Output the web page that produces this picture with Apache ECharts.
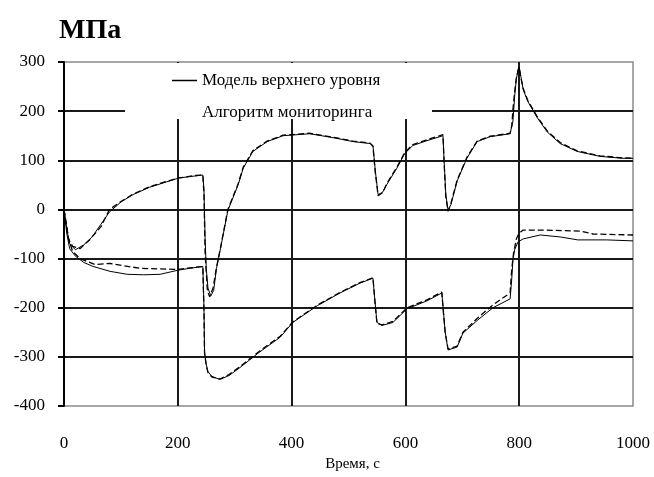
<!DOCTYPE html>
<html>
<head>
<meta charset="utf-8">
<script src="https://cdn.jsdelivr.net/npm/echarts@6/dist/echarts.min.js"></script>
<style>html,body{margin:0;padding:0;background:#fff}#c{width:654px;height:477px}</style>
</head>
<body>
<div id="c"></div>
<script>
var seriesNames = ['Модель верхнего уровня', 'Алгоритм мониторинга'];
var xTicks = [0, 200, 400, 600, 800, 1000];
var yTicks = [-400, -300, -200, -100, 0, 100, 200, 300];

var modelUpper = [[0,0],[5,-40],[10,-70],[20,-82],[35,-72],[50,-55],[65,-30],[80,-5],[100,15],[121,30],[150,45],[180,56],[202,64],[230,68],[244,70],[246,40],[248,-60],[250,-120],[253,-160],[258,-176],[263,-165],[268,-120],[275,-80],[288,-2],[306,50],[315,84],[332,118],[357,138],[385,150],[432,154],[473,146],[508,138],[538,134],[543,130],[547,80],[552,30],[555,26],[560,35],[567,50],[585,84],[599,114],[613,130],[638,140],[666,150],[668,100],[671,30],[675,-2],[680,10],[691,58],[708,104],[726,138],[749,148],[784,154],[787,156],[789,180],[792,230],[795,265],[798,285],[800,290],[803,270],[807,244],[815,220],[831,188],[849,158],[872,134],[902,118],[942,108],[982,104],[1000,104]];
var algoUpper = [[0,0],[8,-60],[15,-75],[28,-80],[45,-62],[65,-35],[80,0],[100,16],[121,31],[150,46],[180,57],[202,64],[230,69],[244,70],[246,30],[248,-90],[252,-165],[256,-178],[262,-160],[268,-118],[275,-78],[288,0],[306,52],[315,86],[332,120],[357,139],[385,151],[432,155],[473,147],[508,139],[538,135],[543,128],[547,76],[552,28],[555,24],[560,34],[567,52],[585,86],[599,116],[613,132],[638,142],[666,152],[668,96],[671,26],[675,-4],[680,12],[691,60],[708,106],[726,139],[749,149],[784,155],[787,170],[789,204],[792,240],[795,268],[798,282],[800,288],[803,268],[807,246],[815,222],[831,190],[849,160],[872,136],[902,119],[942,109],[982,105],[1000,104]];
var modelLower = [[0,0],[5,-50],[10,-80],[20,-95],[35,-108],[51,-116],[81,-126],[111,-132],[140,-133],[169,-132],[199,-124],[220,-120],[244,-116],[246,-200],[247,-290],[250,-315],[253,-330],[260,-340],[274,-346],[290,-338],[309,-322],[344,-290],[380,-260],[402,-230],[445,-196],[485,-170],[520,-150],[543,-140],[546,-180],[550,-230],[559,-236],[578,-230],[603,-202],[638,-186],[664,-170],[667,-210],[670,-250],[675,-286],[691,-280],[701,-252],[726,-226],[754,-200],[784,-182],[787,-140],[789,-102],[792,-82],[798,-66],[807,-60],[837,-52],[872,-56],[903,-62],[954,-62],[1000,-64]];
var algoLower = [[0,0],[8,-60],[15,-85],[28,-100],[54,-112],[81,-110],[134,-120],[199,-122],[244,-116],[246,-210],[247,-292],[250,-318],[253,-332],[260,-341],[274,-345],[290,-336],[309,-320],[344,-288],[380,-258],[402,-229],[445,-195],[485,-169],[520,-149],[543,-139],[546,-182],[550,-232],[559,-235],[578,-228],[603,-200],[638,-184],[664,-168],[667,-212],[670,-252],[675,-284],[691,-278],[701,-250],[726,-222],[754,-194],[784,-170],[787,-120],[790,-90],[795,-60],[800,-48],[807,-42],[842,-42],[907,-44],[930,-50],[1000,-52]];

var serif = '"Liberation Serif", "DejaVu Serif", serif';
var chart = echarts.init(document.getElementById('c'), null, {renderer: 'canvas'});
function lineSeries(name, data, dashed) {
  return {
    name: name, type: 'line', data: data, showSymbol: false, symbol: 'none',
    animation: false, z: 3,
    lineStyle: {color: '#000', width: dashed ? 1.3 : 1, type: dashed ? [6, 3] : 'solid'}
  };
}
var lineIcon = 'path://M0,0L25,0L25,1.5L0,1.5Z';
chart.setOption({
  animation: false,
  backgroundColor: '#fff',
  title: {text: 'МПа', left: 54, top: 12, textStyle: {fontFamily: serif, fontSize: 28, fontWeight: 'bold', color: '#000'}},
  grid: {left: 64, right: 21, top: 62, bottom: 65, show: true, borderColor: '#8a8a8a', borderWidth: 1.5, backgroundColor: 'transparent'},
  graphic: [{type: 'rect', shape: {x: 125, y: 63, width: 307, height: 56}, style: {fill: '#fff'}, z: 1, silent: true}],
  legend: {
    orient: 'vertical', left: 172, top: 72, padding: 0, itemWidth: 25, itemHeight: 14, itemGap: 15, z: 5,
    textStyle: {fontFamily: serif, fontSize: 17, color: '#000'},
    data: [
      {name: seriesNames[0], icon: lineIcon, itemStyle: {color: '#000'}},
      {name: seriesNames[1], icon: lineIcon, itemStyle: {color: '#fff', opacity: 0}}
    ]
  },
  xAxis: {
    type: 'value', min: xTicks[0], max: xTicks[xTicks.length - 1], interval: 200,
    axisLine: {show: false}, axisTick: {show: false},
    axisLabel: {margin: 29, fontFamily: serif, fontSize: 17, color: '#000', formatter: function (v) { return String(v); }},
    splitLine: {show: true, lineStyle: {color: ['#000', '#1a1a1a', '#1a1a1a', '#1a1a1a', '#1a1a1a', 'rgba(0,0,0,0)'], width: 2}},
    name: 'Время, с', nameLocation: 'middle', nameGap: 51,
    nameTextStyle: {fontFamily: serif, fontSize: 15, color: '#000', padding: [0, 0, 0, 8]}
  },
  yAxis: {
    type: 'value', min: yTicks[0], max: yTicks[yTicks.length - 1], interval: 100,
    axisLine: {show: true, lineStyle: {color: '#000', width: 2}},
    axisTick: {show: true, length: 6, lineStyle: {color: '#000', width: 2}},
    axisLabel: {margin: 19, fontFamily: serif, fontSize: 17, color: '#000', formatter: function (v) { return String(v); }},
    splitLine: {show: true, lineStyle: {color: ['rgba(0,0,0,0)', '#1a1a1a', '#1a1a1a', '#1a1a1a', '#1a1a1a', '#1a1a1a', '#1a1a1a', 'rgba(0,0,0,0)'], width: 2}}
  },
  series: [
    lineSeries(seriesNames[0], modelUpper, false),
    lineSeries(seriesNames[0], modelLower, false),
    lineSeries(seriesNames[1], algoUpper, true),
    lineSeries(seriesNames[1], algoLower, true)
  ]
});
</script>
</body>
</html>
